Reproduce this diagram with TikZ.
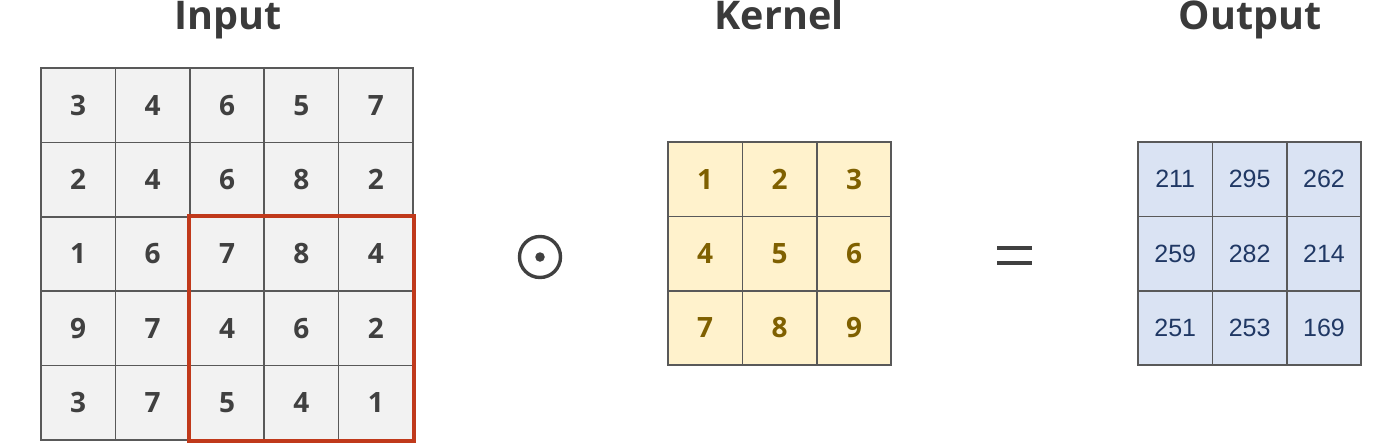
\documentclass[tikz,border=0pt]{standalone}
\usepackage{fontspec}
\setmainfont{Open Sans}
\newfontfamily\numfont{Liberation Sans}
\definecolor{gridline}{HTML}{595959}
\definecolor{infill}{HTML}{F2F2F2}
\definecolor{intext}{HTML}{404040}
\definecolor{kfill}{HTML}{FFF2CC}
\definecolor{ktext}{HTML}{7F6000}
\definecolor{ofill}{HTML}{DAE3F3}
\definecolor{otext}{HTML}{203864}
\definecolor{redbox}{HTML}{C0391B}
\definecolor{title}{HTML}{3A3A3A}
\begin{document}
\begin{tikzpicture}[x=1pt,y=-1pt,
  cellbase/.style={draw=gridline, line width=1.5pt, minimum width=74.4pt, minimum height=74.4pt, inner sep=0pt, anchor=center},
  incell/.style={cellbase, fill=infill, text=intext, font=\fontsize{28}{28}\selectfont\bfseries},
  kcell/.style={cellbase, fill=kfill, text=ktext, font=\fontsize{28}{28}\selectfont\bfseries},
  ocell/.style={cellbase, fill=ofill, text=otext, font=\numfont\fontsize{25}{25}\selectfont},
  titletext/.style={text=title, font=\fontsize{39.5}{39.5}\selectfont\bfseries, anchor=base, inner sep=0pt},
  sym/.style={draw=intext, line width=3.4pt}
]
\useasboundingbox (0,0) rectangle (1390,445);
% Titles
\node[titletext] (tin) at (228,29) {Input};
\node[titletext] (tk) at (779,29) {Kernel};
\node[titletext] (tout) at (1250,29) {Output};
% Input grid
\foreach \vals [count=\r from 0] in {{3,4,6,5,7},{2,4,6,8,2},{1,6,7,8,4},{9,7,4,6,2},{3,7,5,4,1}} {
  \foreach \v [count=\c from 0] in \vals {
    \node[incell] (in-\r-\c) at ({41+37.2+74.4*\c},{68+37.2+74.4*\r}) {\v};
  }
}
% Red window
\draw[draw=redbox, line width=3.6pt] (in-2-2.north west) rectangle (in-4-4.south east);
% Odot
\node[circle, sym, minimum size=41pt, inner sep=0pt] (odot) at (540,257) {};
\node[circle, fill=intext, minimum size=9.5pt, inner sep=0pt] (odotc) at (odot.center) {};
% Kernel grid
\foreach \vals [count=\r from 0] in {{1,2,3},{4,5,6},{7,8,9}} {
  \foreach \v [count=\c from 0] in \vals {
    \node[kcell] (k-\r-\c) at ({668+37.2+74.4*\c},{142+37.2+74.4*\r}) {\v};
  }
}
% Equals
\coordinate (eqa) at (997,248);
\coordinate (eqb) at (1032,248);
\coordinate (eqc) at (997,263);
\coordinate (eqd) at (1032,263);
\draw[sym, line width=4pt] (eqa) -- (eqb);
\draw[sym, line width=4pt] (eqc) -- (eqd);
% Output grid
\foreach \vals [count=\r from 0] in {{211,295,262},{259,282,214},{251,253,169}} {
  \foreach \v [count=\c from 0] in \vals {
    \node[ocell] (o-\r-\c) at ({1138+37.2+74.4*\c},{142+37.2+74.4*\r}) {\v};
  }
}
\end{tikzpicture}
\end{document}
